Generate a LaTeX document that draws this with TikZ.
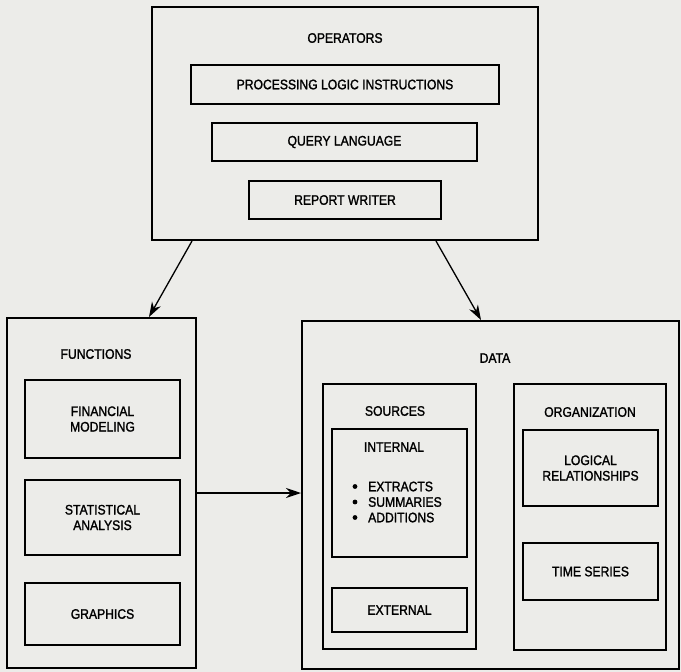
\documentclass[tikz,border=0pt]{standalone}
\usepackage{fontspec}
\setmainfont{Liberation Sans}[FakeStretch=0.88,FakeBold=1.5]
\usetikzlibrary{arrows.meta}
\definecolor{paper}{RGB}{236,236,233}
\newcommand{\lbl}{\fontsize{13.8}{15.5}\selectfont}

\begin{document}
\begin{tikzpicture}[x=1pt,y=-1pt,
		outer/.style={draw,line width=2pt,inner sep=0pt},
		box/.style={draw,line width=1.2pt,inner sep=0pt,align=center,font=\lbl},
		title/.style={font=\lbl},
		arr/.style={line width=1.3pt,-{Stealth[length=15pt,width=10pt]}}]
		\fill[paper] (0,0) rectangle (681,672);
		\useasboundingbox (0,0) rectangle (681,672);
	
	% operators
		\node[outer,minimum width=386pt,minimum height=233pt] (ops) at (345,123.5) {};
		\node[title] (opst) at (345,38) {OPERATORS};
		\node[box,minimum width=308pt,minimum height=39pt] (proc) at (345,84.5) {PROCESSING LOGIC INSTRUCTIONS};
		\node[box,minimum width=265pt,minimum height=38pt] (query) at (344.5,142) {QUERY LANGUAGE};
		\node[box,minimum width=192pt,minimum height=38pt] (report) at (345,200) {REPORT WRITER};
	
	% functions
		\node[outer,minimum width=189pt,minimum height=350pt] (func) at (101.5,493) {};
		\node[title] (funct) at (96,354) {FUNCTIONS};
		\node[box,minimum width=155pt,minimum height=78pt] (fin) at (102.5,419) {FINANCIAL\\MODELING};
		\node[box,minimum width=155pt,minimum height=75pt] (stat) at (102.5,517.5) {STATISTICAL\\ANALYSIS};
		\node[box,minimum width=155pt,minimum height=62pt] (graph) at (102.5,614) {GRAPHICS};
	
	% data
		\node[outer,minimum width=377pt,minimum height=348pt] (data) at (490.5,495) {};
		\node[title] (datat) at (495,358) {DATA};
		\node[box,minimum width=153pt,minimum height=265pt] (src) at (399.5,516.5) {};
		\node[title] (srct) at (395,411) {SOURCES};
		\node[box,minimum width=135pt,minimum height=128pt] (int) at (399.5,493) {};
		\node[title] (intt) at (394,447) {INTERNAL};
		\node[title,align=left,anchor=west,inner sep=0pt] (items) at (368,502)
			{EXTRACTS\\SUMMARIES\\ADDITIONS};
		\foreach \y in {486.5,502,517.5}
			\fill (355,\y) circle (2.4pt);
		\node[box,minimum width=135pt,minimum height=44pt] (ext) at (399.5,610) {EXTERNAL};
		\node[box,minimum width=152pt,minimum height=266pt] (org) at (590,517) {};
		\node[title] (orgt) at (590,412) {ORGANIZATION};
		\node[box,minimum width=135pt,minimum height=76pt] (logic) at (590.5,468) {LOGICAL\\RELATIONSHIPS};
		\node[box,minimum width=135pt,minimum height=57pt] (time) at (590.5,571.5) {TIME SERIES};
	
	% arrows
		\draw[arr] ([xshift=41pt]ops.south west) -- ([xshift=143pt]func.north west);
		\draw[arr] ([xshift=285pt]ops.south west) -- ([xshift=180pt]data.north west);
		\draw[arr] (func.east) -- (func.east -| data.west);
	\end{tikzpicture}
\end{document}
